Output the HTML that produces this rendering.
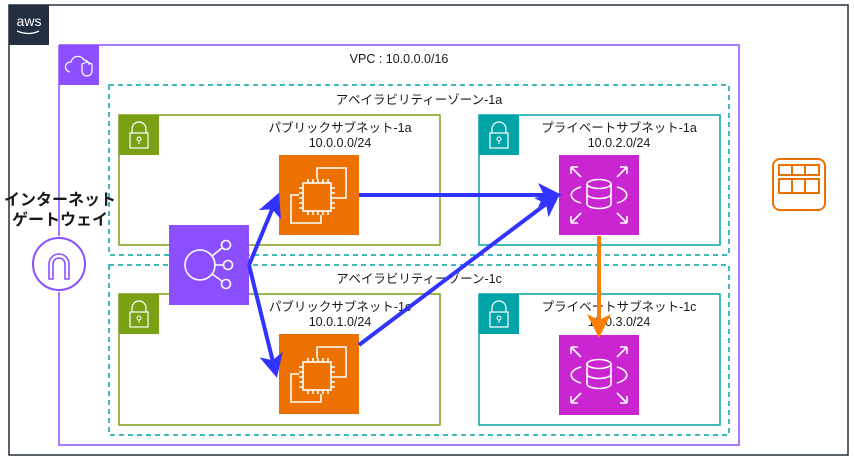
<!DOCTYPE html>
<html><head><meta charset="utf-8"><style>
html,body{margin:0;padding:0;background:#fff;}
svg{display:block;}
text{font-family:"Liberation Sans","Noto Sans CJK JP",sans-serif;font-size:12.5px;fill:#1a1a1a;}
</style></head><body>
<svg width="854" height="460" viewBox="0 0 854 460" xmlns="http://www.w3.org/2000/svg">
<defs>
<marker id="ab" markerWidth="6" markerHeight="6" refX="4" refY="3" orient="auto" markerUnits="strokeWidth"><path d="M0,0 L6,3 L0,6 L1.5,3 Z" fill="#3333ff"/></marker>
<marker id="ao" markerWidth="6" markerHeight="6" refX="4" refY="3" orient="auto" markerUnits="strokeWidth"><path d="M0,0 L6,3 L0,6 L1.5,3 Z" fill="#ff7f00"/></marker>
<g id="lock"><rect width="40" height="40"/><rect x="11" y="18" width="18" height="15" fill="none" stroke="#fff" stroke-width="1.2"/><path d="M13,18 v-4 a7,7 0 0 1 14,0 v4" fill="none" stroke="#fff" stroke-width="1.2"/><circle cx="20" cy="24" r="2" fill="none" stroke="#fff"/><line x1="20" y1="26" x2="20" y2="29" stroke="#fff"/></g>
<g id="ec2"><rect width="80" height="80" fill="#ed7100"/><g fill="none" stroke="#fff" stroke-width="1.6"><rect x="24" y="28" width="28" height="28"/><path d="M38,24 v-11 h29 v30 h-11"/><path d="M20,40 h-8 v28 h30 v-8"/><path d="M29,28v-4M34,28v-4M39,28v-4M44,28v-4M49,28v-4M29,56v4M34,56v4M39,56v4M44,56v4M49,56v4M24,33h-4M24,38h-4M24,43h-4M24,48h-4M24,53h-4M52,33h4M52,38h4M52,43h4M52,48h4M52,53h4"/></g></g>
<g id="rds"><rect width="80" height="80" fill="#c925d1"/><g fill="none" stroke="#fff" stroke-width="1.6"><path d="M12,12 l10,10M12,12h7M12,12v7M68,12l-10,10M68,12h-7M68,12v7M12,68l10,-10M12,68h7M12,68v-7M68,68l-10,-10M68,68h-7M68,68v-7"/><ellipse cx="40" cy="29" rx="12" ry="4.5"/><path d="M28,29v20a12,4.5 0 0 0 24,0v-20M28,39a12,4.5 0 0 0 24,0"/><path d="M22,32a18,9 0 0 0 0,16M58,32a18,9 0 0 1 0,16"/></g></g>
</defs>
<rect x="9" y="5" width="839" height="450" fill="none" stroke="#232f3e" stroke-width="1.5"/>
<rect x="9" y="5" width="40" height="40" fill="#232f3e"/>
<text x="29" y="26" text-anchor="middle" style="fill:#fff;font-size:14px">aws</text>
<path d="M17,31 q12,5 22,0" stroke="#fff" fill="none" stroke-width="1.3"/>
<path d="M59,45 H739 V445 H59 V292 M59,236 V45" fill="none" stroke="#8c4fff" stroke-width="1.5"/>
<rect x="59" y="45" width="40" height="40" fill="#8c4fff"/>
<path d="M70,72 a5,5 0 0 1 1,-10 a7,7 0 0 1 13,-2 a5,5 0 0 1 5,5" fill="none" stroke="#fff" stroke-width="1.2"/>
<path d="M82,64 l5,-2 l5,2 v7 a5,5 0 0 1 -10,0 Z" fill="none" stroke="#fff" stroke-width="1.2"/>
<text x="399" y="63" text-anchor="middle">VPC : 10.0.0.0/16</text>
<rect x="109" y="85" width="620" height="170" fill="none" stroke="#00a4a6" stroke-width="1.5" stroke-dasharray="5,4"/>
<rect x="109" y="265" width="620" height="170" fill="none" stroke="#00a4a6" stroke-width="1.5" stroke-dasharray="5,4"/>
<text x="419" y="104" text-anchor="middle">アベイラビリティーゾーン-1a</text>
<text x="419" y="283" text-anchor="middle">アベイラビリティーゾーン-1c</text>
<rect x="119" y="115" width="321" height="130" fill="none" stroke="#7aa116" stroke-width="1.5"/>
<rect x="119" y="294" width="321" height="131" fill="none" stroke="#7aa116" stroke-width="1.5"/>
<rect x="479" y="115" width="241" height="130" fill="none" stroke="#00a4a6" stroke-width="1.5"/>
<rect x="479" y="294" width="241" height="131" fill="none" stroke="#00a4a6" stroke-width="1.5"/>
<use href="#lock" x="119" y="115" fill="#7aa116"/>
<use href="#lock" x="119" y="294" fill="#7aa116"/>
<use href="#lock" x="479" y="115" fill="#00a4a6"/>
<use href="#lock" x="479" y="294" fill="#00a4a6"/>
<text x="340" y="132" text-anchor="middle">パブリックサブネット-1a</text>
<text x="340" y="147" text-anchor="middle">10.0.0.0/24</text>
<text x="340" y="311" text-anchor="middle">パブリックサブネット-1c</text>
<text x="340" y="326" text-anchor="middle">10.0.1.0/24</text>
<text x="619" y="132" text-anchor="middle">プライベートサブネット-1a</text>
<text x="619" y="147" text-anchor="middle">10.0.2.0/24</text>
<text x="619" y="311" text-anchor="middle">プライベートサブネット-1c</text>
<text x="619" y="326" text-anchor="middle">10.0.3.0/24</text>
<use href="#ec2" x="279" y="155"/>
<use href="#ec2" x="279" y="334"/>
<use href="#rds" x="559" y="155"/>
<use href="#rds" x="559" y="335"/>
<rect x="169" y="225" width="80" height="80" fill="#8c4fff"/>
<g fill="none" stroke="#fff" stroke-width="1.6"><circle cx="200" cy="265" r="15"/><circle cx="226" cy="245" r="4.5"/><circle cx="228" cy="265" r="4.5"/><circle cx="226" cy="284" r="4.5"/><path d="M212,256 l10,-8M215,265h9M212,274 l10,7"/></g>
<text x="60" y="205" text-anchor="middle" style="font-size:16px;font-weight:bold">インターネット</text>
<text x="60" y="225" text-anchor="middle" style="font-size:16px;font-weight:bold">ゲートウェイ</text>
<circle cx="59" cy="264" r="26" fill="#fff" stroke="#8c4fff" stroke-width="2"/>
<path d="M49,279 v-15 a10,10 0 0 1 20,0 v15 h-4 v-15 a6,6 0 0 0 -12,0 v15 Z" fill="none" stroke="#8c4fff" stroke-width="1.6"/>
<rect x="773" y="159" width="52" height="51" rx="7" fill="none" stroke="#ed7100" stroke-width="2"/>
<g fill="none" stroke="#ed7100" stroke-width="2"><rect x="779" y="165" width="40" height="10"/><rect x="779" y="179" width="40" height="14"/><path d="M792,165v10M805,165v10M792,179v14M805,179v14"/></g>
<g stroke="#3333ff" stroke-width="4" fill="none">
<line x1="249" y1="265" x2="276" y2="200" marker-end="url(#ab)"/>
<line x1="249" y1="265" x2="275" y2="370" marker-end="url(#ab)"/>
<line x1="359" y1="195" x2="554" y2="195" marker-end="url(#ab)"/>
<line x1="359" y1="345" x2="554" y2="198" marker-end="url(#ab)"/>
</g>
<line x1="599" y1="236" x2="599" y2="330" stroke="#ff7f00" stroke-width="4" marker-end="url(#ao)"/>
</svg>
</body></html>
